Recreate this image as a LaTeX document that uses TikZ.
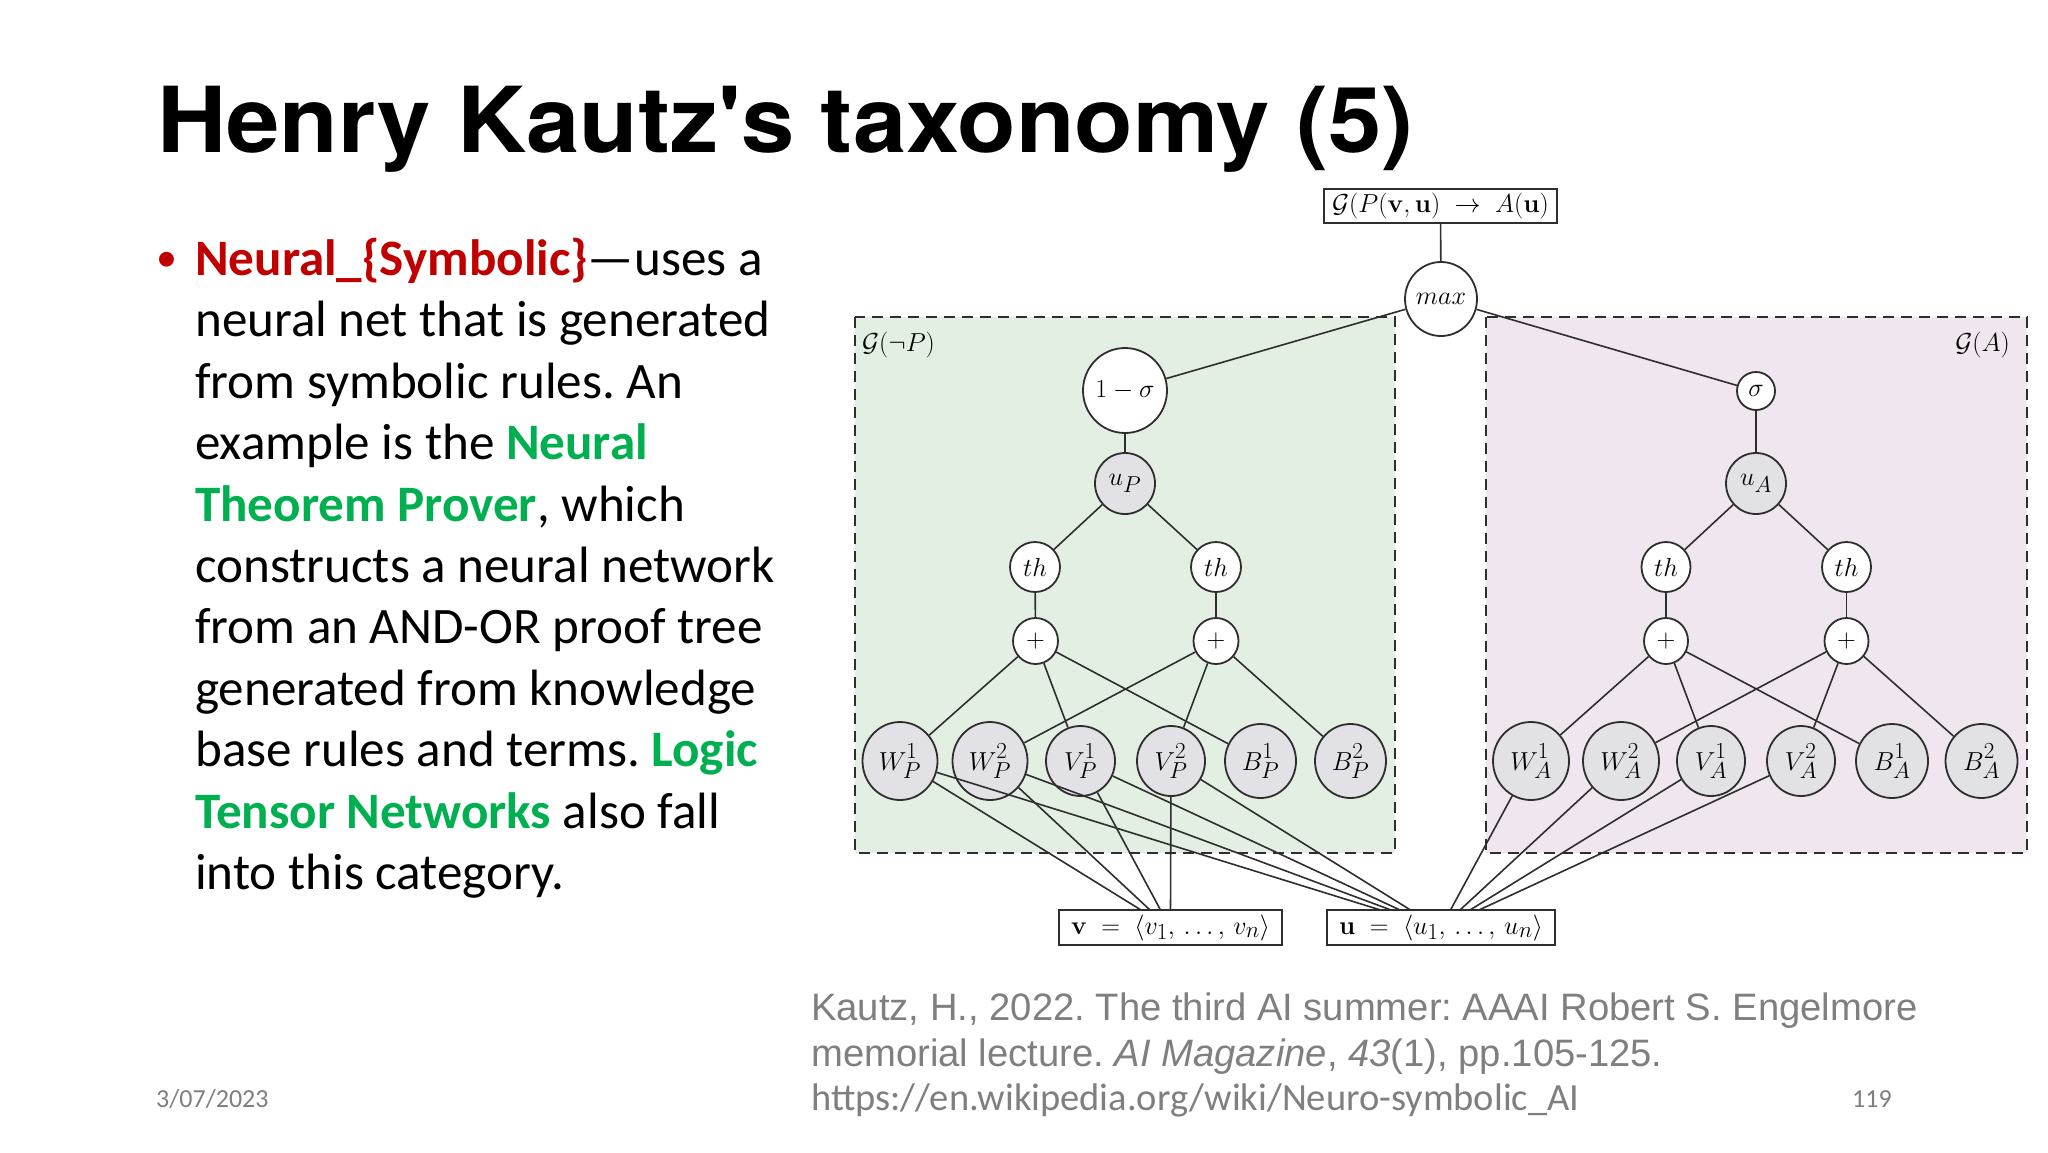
\RequirePackage{fix-cm}
\documentclass[tikz,border=0pt]{standalone}
\usepackage[no-math]{fontspec}
\setmainfont{Carlito}
\newfontfamily\titlefont[FakeStretch=1.053]{TeX Gyre Heros}
\newfontfamily\citefont{Liberation Sans}
\usetikzlibrary{shapes.geometric}
\definecolor{boxgreen}{HTML}{E4EFE4}
\definecolor{boxpurple}{HTML}{EFE6EF}
\definecolor{nodegray}{HTML}{E2E2E6}
\definecolor{ink}{HTML}{2E2E2E}
\definecolor{slidered}{HTML}{C00000}
\definecolor{slidegreen}{HTML}{00B050}
\definecolor{citegray}{HTML}{7F7F7F}
\DeclareMathSizes{26}{26}{23}{18}
\newcommand{\mfont}{\fontsize{26}{30}\selectfont}
\newcommand{\lab}[3]{$#1^{#2\rule[-3.5pt]{0pt}{1pt}}_{#3}$}
\frenchspacing
\tikzset{
  x=1pt,y=-1pt,
  netline/.style={draw=ink,line width=1.6pt},
  region/.style={draw=ink,line width=2.1pt,dash pattern=on 11pt off 7pt},
  oval/.style={ellipse,draw=ink,line width=1.8pt,inner sep=0pt,font=\mfont},
  ovw/.style={oval,fill=white},
  ovg/.style={oval,fill=nodegray},
  sz/.style 2 args={minimum width=#1pt,minimum height=#2pt},
  mathbox/.style={draw=ink,line width=1.8pt,fill=white,inner sep=0pt,font=\mfont},
  body/.style={anchor=base west,inner sep=0pt,font=\fontsize{51.1}{55}\selectfont},
  cite/.style={anchor=base west,inner sep=0pt,text=citegray,font=\citefont\fontsize{38.2}{42}\selectfont},
  foot/.style={anchor=base west,inner sep=0pt,text=citegray,font=\fontsize{26}{30}\selectfont}
}
\begin{document}
\begin{tikzpicture}
\useasboundingbox (0,0) rectangle (2048,1152);
\fill[white] (0,0) rectangle (2048,1152);
% title
\node[anchor=base west,inner sep=0pt,font=\titlefont\bfseries\fontsize{91}{100}\selectfont] (title) at (157,152) {Henry Kautz's taxonomy (5)};
% bullet text
\node[anchor=base west,inner sep=0pt,text=slidered,font=\fontsize{42}{46}\selectfont] (bul) at (156.5,271) {•};
\node[body] (l1) at (195,275.5) {\textcolor{slidered}{\textbf{Neural\_\{Symbolic\}}}—uses a};
\node[body] (l2) at (195,336.9) {neural net that is generated};
\node[body] (l3) at (195,398.3) {from symbolic rules. An};
\node[body] (l4) at (195,459.7) {example is the \textcolor{slidegreen}{\textbf{Neural}}};
\node[body] (l5) at (195,521.1) {\textcolor{slidegreen}{\textbf{Theorem Prover}}, which};
\node[body] (l6) at (195,582.5) {constructs a neural network};
\node[body] (l7) at (195,643.9) {from an AND-OR proof tree};
\node[body] (l8) at (195,705.3) {generated from knowledge};
\node[body] (l9) at (195,766.7) {base rules and terms. \textcolor{slidegreen}{\textbf{Logic}}};
\node[body] (l10) at (195,828.1) {\textcolor{slidegreen}{\textbf{Tensor Networks}} also fall};
\node[body] (l11) at (195,889.5) {into this category.};
% citation
\node[cite] (c1) at (811,1020) {Kautz, H., 2022. The third AI summer: AAAI Robert S. Engelmore};
\node[cite] (c2) at (811,1066) {memorial lecture. \textit{AI Magazine}, \textit{43}(1), pp.105-125.};
\node[anchor=base west,inner sep=0pt,text=citegray,font=\fontsize{38.5}{42}\selectfont] (c3) at (811,1110) {https://en.wikipedia.org/wiki/Neuro-symbolic\_AI};
\node[foot] (date) at (156,1107) {3/07/2023};
\node[foot] (pg) at (1852,1107) {119};
% regions
\fill[boxgreen] (855,317) rectangle (1395,853);
\fill[boxpurple] (1486,317) rectangle (2027,853);
\draw[region] (855,317) rectangle (1395,853);
\draw[region] (1486,317) rectangle (2027,853);
\node[anchor=base west,inner sep=0pt,font=\mfont] (gnp) at (862,351) {$\mathcal{G}(\neg P)$};
\node[anchor=base east,inner sep=0pt,font=\mfont] (ga) at (2010,351) {$\mathcal{G}(A)$};
% boxes
\node[mathbox,sz={233}{34}] (top) at (1440.5,206) {$\mathcal{G}(P(\mathbf{v},\mathbf{u})\;\to\;A(\mathbf{u})$};
\node[mathbox,sz={223}{35}] (vb) at (1170.5,927.5) {$\mathbf{v}\;=\;\langle v_1,\,.\,.\,.\,,\,v_n\rangle$};
\node[mathbox,sz={228}{35}] (ub) at (1441,927.5) {$\mathbf{u}\;=\;\langle u_1,\,.\,.\,.\,,\,u_n\rangle$};
% upper nodes
\node[ovw,sz={72}{74}] (max) at (1441,299) {$max$};
\node[ovw,sz={84}{85}] (ns) at (1125,390.5) {$1-\sigma$};
\node[ovg,sz={60}{61}] (up) at (1125,483.5) {$u_P$};
\node[ovw,sz={50}{50}] (tl) at (1035,567) {$th$};
\node[ovw,sz={50}{50}] (tr) at (1216,567) {$th$};
\node[ovw,sz={45}{46}] (pl) at (1035.5,641) {$+$};
\node[ovw,sz={45}{46}] (pr) at (1216,641) {$+$};
\node[ovg,sz={75}{78}] (wp1) at (900,761) {\lab{W}{1}{P}};
\node[ovg,sz={75}{78}] (wp2) at (990,761) {\lab{W}{2}{P}};
\node[ovg,sz={69}{70}] (vp1) at (1080.5,761) {\lab{V}{1}{P}};
\node[ovg,sz={68}{70}] (vp2) at (1171,761) {\lab{V}{2}{P}};
\node[ovg,sz={71}{74}] (bp1) at (1260.5,761) {\lab{B}{1}{P}};
\node[ovg,sz={71}{74}] (bp2) at (1350.5,761) {\lab{B}{2}{P}};
\node[ovw,sz={38}{38}] (sg) at (1756,391) {$\sigma$};
\node[ovg,sz={60}{61}] (ua) at (1756,483.5) {$u_A$};
\node[ovw,sz={49}{50}] (tal) at (1666,567) {$th$};
\node[ovw,sz={49}{50}] (tar) at (1846.5,567) {$th$};
\node[ovw,sz={44}{46}] (pal) at (1666,641) {$+$};
\node[ovw,sz={44}{46}] (par) at (1846.5,641) {$+$};
\node[ovg,sz={76}{78}] (wa1) at (1531,761) {\lab{W}{1}{A}};
\node[ovg,sz={76}{78}] (wa2) at (1621,761) {\lab{W}{2}{A}};
\node[ovg,sz={68}{70}] (va1) at (1711,761) {\lab{V}{1}{A}};
\node[ovg,sz={68}{70}] (va2) at (1801,761) {\lab{V}{2}{A}};
\node[ovg,sz={72}{74}] (ba1) at (1892,761) {\lab{B}{1}{A}};
\node[ovg,sz={72}{74}] (ba2) at (1981.5,761) {\lab{B}{2}{A}};
% free ends on the input boxes
\coordinate (v1) at (1141,910); \coordinate (v2) at (1150,910);
\coordinate (v3) at (1160.5,910); \coordinate (v4) at (1170.5,910);
\coordinate (u1) at (1380.5,910); \coordinate (u2) at (1391,910);
\coordinate (u3) at (1400,910); \coordinate (u4) at (1410.5,910);
\coordinate (u5) at (1450.5,910); \coordinate (u6) at (1460,910);
\coordinate (u7) at (1470,910); \coordinate (u8) at (1479,910);
% connectors
\draw[netline] (top) -- (max);
\draw[netline] (max) -- (ns);
\draw[netline] (max) -- (sg);
\draw[netline] (ns) -- (up);
\draw[netline] (sg) -- (ua);
\foreach \a/\b in {up/tl,up/tr,tl/pl,tr/pr,pl/wp1,pl/vp1,pl/bp1,pr/wp2,pr/vp2,pr/bp2,
  ua/tal,ua/tar,tal/pal,tar/par,pal/wa1,pal/va1,pal/ba1,par/wa2,par/va2,par/ba2,
  wp1/v1,wp2/v2,vp1/v3,vp2/v4,wp1/u1,wp2/u2,vp1/u3,vp2/u4,wa1/u5,wa2/u6,va1/u7,va2/u8}
  \draw[netline] (\a) -- (\b);
\end{tikzpicture}
\end{document}
